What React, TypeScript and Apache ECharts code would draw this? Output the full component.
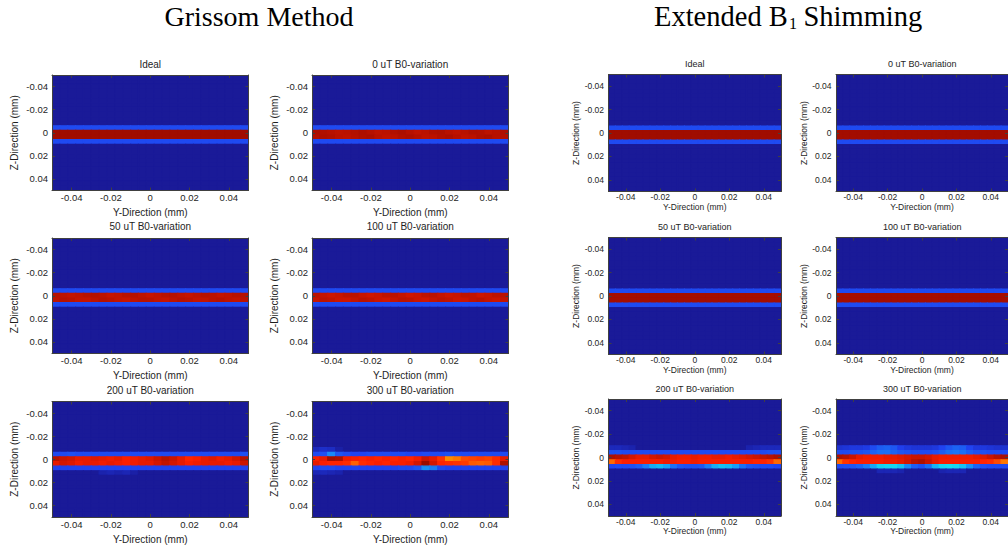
import React, { useEffect, useRef } from "react";
import * as echarts from "echarts";

// ---------- data ----------
const cellCenters = [
  -0.048, -0.044, -0.04, -0.036, -0.032, -0.028, -0.024, -0.02, -0.016, -0.012, -0.008, -0.004, 0,
  0.004, 0.008, 0.012, 0.016, 0.02, 0.024, 0.028, 0.032, 0.036, 0.04, 0.044, 0.048,
];
const tickValues = [-0.04, -0.02, 0, 0.02, 0.04];
const axisMin = -0.05;
const axisMax = 0.05;
const leftTitle = "Grissom Method";
const rightTitleMain = "Extended B";
const rightTitleSub = "1";
const rightTitleEnd = "Shimming";
const panelTitles = [
  "Ideal",
  "0 uT B0-variation",
  "50 uT B0-variation",
  "100 uT B0-variation",
  "200 uT B0-variation",
  "300 uT B0-variation",
];
const xAxisName = "Y-Direction (mm)";
const yAxisName = "Z-Direction (mm)";
const backgroundLevel = 0;
const bandFirstRow = 10; // rows 10..15 carry the slice profile

// rows 10..15 of each map (25 columns each)
const grissomIdeal = [
  [0, 0, 0, 0, 0, 0, 0, 0, 0, 0, 0, 0, 0, 0, 0, 0, 0, 0, 0, 0, 0, 0, 0, 0, 0],
  [0.14, 0.14, 0.14, 0.14, 0.14, 0.14, 0.14, 0.14, 0.14, 0.14, 0.14, 0.14, 0.14, 0.14, 0.14, 0.14, 0.14, 0.14, 0.14, 0.14, 0.14, 0.14, 0.14, 0.14, 0.14],
  [0.975, 0.975, 0.975, 0.975, 0.975, 0.975, 0.975, 0.975, 0.975, 0.975, 0.975, 0.975, 0.975, 0.975, 0.975, 0.975, 0.975, 0.975, 0.975, 0.975, 0.975, 0.975, 0.975, 0.975, 0.975],
  [0.975, 0.975, 0.975, 0.975, 0.975, 0.975, 0.975, 0.975, 0.975, 0.975, 0.975, 0.975, 0.975, 0.975, 0.975, 0.975, 0.975, 0.975, 0.975, 0.975, 0.975, 0.975, 0.975, 0.975, 0.975],
  [0.14, 0.14, 0.14, 0.14, 0.14, 0.14, 0.14, 0.14, 0.14, 0.14, 0.14, 0.14, 0.14, 0.14, 0.14, 0.14, 0.14, 0.14, 0.14, 0.14, 0.14, 0.14, 0.14, 0.14, 0.14],
  [0, 0, 0, 0, 0, 0, 0, 0, 0, 0, 0, 0, 0, 0, 0, 0, 0, 0, 0, 0, 0, 0, 0, 0, 0],
];
const grissom0uT = [
  [0, 0, 0, 0, 0, 0, 0, 0, 0, 0, 0, 0, 0, 0, 0, 0, 0, 0, 0, 0, 0, 0, 0, 0, 0],
  [0.14, 0.14, 0.14, 0.14, 0.14, 0.14, 0.14, 0.14, 0.14, 0.14, 0.14, 0.14, 0.14, 0.14, 0.14, 0.14, 0.14, 0.14, 0.14, 0.14, 0.14, 0.14, 0.14, 0.14, 0.14],
  [0.962, 0.958, 0.951, 0.944, 0.947, 0.955, 0.961, 0.953, 0.943, 0.946, 0.957, 0.963, 0.952, 0.941, 0.948, 0.958, 0.96, 0.949, 0.942, 0.95, 0.959, 0.956, 0.945, 0.951, 0.96],
  [0.955, 0.962, 0.958, 0.947, 0.943, 0.952, 0.96, 0.963, 0.95, 0.941, 0.949, 0.958, 0.962, 0.954, 0.944, 0.947, 0.957, 0.961, 0.951, 0.943, 0.948, 0.96, 0.963, 0.952, 0.956],
  [0.14, 0.14, 0.14, 0.14, 0.14, 0.14, 0.14, 0.14, 0.14, 0.14, 0.14, 0.14, 0.14, 0.14, 0.14, 0.14, 0.14, 0.14, 0.14, 0.14, 0.14, 0.14, 0.14, 0.14, 0.14],
  [0, 0, 0, 0, 0, 0, 0, 0, 0, 0, 0, 0, 0, 0, 0, 0, 0, 0, 0, 0, 0, 0, 0, 0, 0],
];
const grissom50uT = [
  [0, 0, 0, 0, 0, 0, 0, 0, 0, 0, 0, 0, 0, 0, 0, 0, 0, 0, 0, 0, 0, 0, 0, 0, 0],
  [0.14, 0.14, 0.14, 0.14, 0.14, 0.14, 0.14, 0.14, 0.14, 0.14, 0.14, 0.14, 0.14, 0.14, 0.14, 0.14, 0.14, 0.14, 0.14, 0.14, 0.14, 0.14, 0.14, 0.14, 0.14],
  [0.95, 0.945, 0.938, 0.942, 0.95, 0.954, 0.946, 0.936, 0.94, 0.949, 0.953, 0.944, 0.935, 0.941, 0.95, 0.952, 0.943, 0.937, 0.944, 0.951, 0.947, 0.939, 0.942, 0.95, 0.953],
  [0.944, 0.951, 0.947, 0.938, 0.936, 0.945, 0.952, 0.948, 0.939, 0.934, 0.943, 0.95, 0.949, 0.94, 0.935, 0.944, 0.951, 0.946, 0.937, 0.939, 0.948, 0.952, 0.943, 0.938, 0.946],
  [0.14, 0.14, 0.14, 0.14, 0.14, 0.14, 0.14, 0.14, 0.14, 0.14, 0.14, 0.14, 0.14, 0.14, 0.14, 0.14, 0.14, 0.14, 0.14, 0.14, 0.14, 0.14, 0.14, 0.14, 0.14],
  [0, 0, 0, 0, 0, 0, 0, 0, 0, 0, 0, 0, 0, 0, 0, 0, 0, 0, 0, 0, 0, 0, 0, 0, 0],
];
const grissom100uT = [
  [0, 0, 0, 0, 0, 0, 0, 0, 0, 0, 0, 0, 0, 0, 0, 0, 0, 0, 0, 0, 0, 0, 0, 0, 0],
  [0.14, 0.14, 0.14, 0.14, 0.14, 0.14, 0.14, 0.14, 0.14, 0.14, 0.14, 0.14, 0.14, 0.14, 0.14, 0.14, 0.14, 0.14, 0.14, 0.14, 0.14, 0.14, 0.14, 0.14, 0.14],
  [0.945, 0.936, 0.928, 0.934, 0.944, 0.947, 0.935, 0.926, 0.932, 0.942, 0.946, 0.937, 0.925, 0.931, 0.943, 0.948, 0.936, 0.927, 0.933, 0.944, 0.941, 0.929, 0.934, 0.943, 0.947],
  [0.935, 0.944, 0.94, 0.929, 0.926, 0.938, 0.946, 0.941, 0.93, 0.924, 0.936, 0.945, 0.942, 0.931, 0.925, 0.937, 0.944, 0.939, 0.928, 0.93, 0.941, 0.946, 0.935, 0.929, 0.938],
  [0.14, 0.14, 0.14, 0.14, 0.14, 0.14, 0.14, 0.14, 0.14, 0.14, 0.14, 0.14, 0.14, 0.14, 0.14, 0.14, 0.14, 0.14, 0.14, 0.14, 0.14, 0.14, 0.14, 0.14, 0.14],
  [0, 0, 0, 0, 0, 0, 0, 0, 0, 0, 0, 0, 0, 0, 0, 0, 0, 0, 0, 0, 0, 0, 0, 0, 0],
];
const grissom200uT = [
  [0, 0, 0, 0, 0, 0, 0, 0, 0, 0, 0, 0, 0, 0, 0, 0, 0, 0, 0, 0, 0, 0, 0, 0, 0],
  [0.14, 0.14, 0.15, 0.14, 0.14, 0.14, 0.14, 0.14, 0.14, 0.14, 0.14, 0.14, 0.14, 0.14, 0.14, 0.14, 0.14, 0.14, 0.14, 0.14, 0.14, 0.14, 0.14, 0.14, 0.15],
  [0.95, 0.93, 0.92, 0.9, 0.9, 0.91, 0.9, 0.89, 0.9, 0.88, 0.89, 0.9, 0.91, 0.93, 0.95, 0.93, 0.9, 0.87, 0.88, 0.9, 0.91, 0.89, 0.9, 0.92, 0.95],
  [0.9, 0.92, 0.91, 0.89, 0.9, 0.9, 0.89, 0.9, 0.89, 0.88, 0.89, 0.9, 0.9, 0.92, 0.94, 0.92, 0.9, 0.88, 0.89, 0.9, 0.9, 0.9, 0.89, 0.9, 0.93],
  [0.13, 0.13, 0.13, 0.13, 0.13, 0.13, 0.13, 0.13, 0.13, 0.13, 0.13, 0.13, 0.13, 0.13, 0.13, 0.13, 0.13, 0.13, 0.13, 0.13, 0.13, 0.13, 0.13, 0.13, 0.13],
  [0, 0, 0, 0, 0, 0, 0.03, 0.04, 0.03, 0.04, 0.02, 0, 0, 0, 0, 0, 0, 0, 0, 0, 0, 0, 0, 0, 0],
];
const grissom300uT = [
  [0.05, 0.07, 0.06, 0.02, 0, 0, 0, 0, 0, 0, 0, 0, 0, 0, 0, 0, 0, 0, 0, 0, 0, 0, 0, 0, 0],
  [0.14, 0.15, 0.24, 0.16, 0.14, 0.13, 0.13, 0.14, 0.14, 0.14, 0.14, 0.14, 0.13, 0.13, 0.14, 0.14, 0.14, 0.15, 0.14, 0.14, 0.14, 0.14, 0.14, 0.14, 0.14],
  [0.88, 0.9, 0.97, 0.96, 0.89, 0.88, 0.87, 0.88, 0.87, 0.88, 0.87, 0.88, 0.87, 0.89, 0.93, 0.9, 0.85, 0.74, 0.76, 0.82, 0.83, 0.84, 0.83, 0.86, 0.9],
  [0.9, 0.88, 0.87, 0.87, 0.86, 0.79, 0.86, 0.87, 0.88, 0.87, 0.88, 0.88, 0.89, 0.92, 0.98, 0.92, 0.87, 0.86, 0.85, 0.84, 0.8, 0.79, 0.8, 0.86, 0.96],
  [0.13, 0.14, 0.14, 0.13, 0.13, 0.13, 0.13, 0.13, 0.13, 0.13, 0.13, 0.14, 0.14, 0.16, 0.25, 0.22, 0.14, 0.13, 0.13, 0.13, 0.13, 0.13, 0.13, 0.13, 0.13],
  [0.04, 0.05, 0.04, 0.03, 0, 0, 0, 0, 0, 0, 0, 0, 0, 0, 0, 0, 0, 0, 0, 0, 0, 0, 0, 0, 0],
];
const extendedIdeal = [
  [0, 0, 0, 0, 0, 0, 0, 0, 0, 0, 0, 0, 0, 0, 0, 0, 0, 0, 0, 0, 0, 0, 0, 0, 0],
  [0.14, 0.14, 0.14, 0.14, 0.14, 0.14, 0.14, 0.14, 0.14, 0.14, 0.14, 0.14, 0.14, 0.14, 0.14, 0.14, 0.14, 0.14, 0.14, 0.14, 0.14, 0.14, 0.14, 0.14, 0.14],
  [0.975, 0.975, 0.975, 0.975, 0.975, 0.975, 0.975, 0.975, 0.975, 0.975, 0.975, 0.975, 0.975, 0.975, 0.975, 0.975, 0.975, 0.975, 0.975, 0.975, 0.975, 0.975, 0.975, 0.975, 0.975],
  [0.975, 0.975, 0.975, 0.975, 0.975, 0.975, 0.975, 0.975, 0.975, 0.975, 0.975, 0.975, 0.975, 0.975, 0.975, 0.975, 0.975, 0.975, 0.975, 0.975, 0.975, 0.975, 0.975, 0.975, 0.975],
  [0.14, 0.14, 0.14, 0.14, 0.14, 0.14, 0.14, 0.14, 0.14, 0.14, 0.14, 0.14, 0.14, 0.14, 0.14, 0.14, 0.14, 0.14, 0.14, 0.14, 0.14, 0.14, 0.14, 0.14, 0.14],
  [0, 0, 0, 0, 0, 0, 0, 0, 0, 0, 0, 0, 0, 0, 0, 0, 0, 0, 0, 0, 0, 0, 0, 0, 0],
];
const extended0uT = [
  [0, 0, 0, 0, 0, 0, 0, 0, 0, 0, 0, 0, 0, 0, 0, 0, 0, 0, 0, 0, 0, 0, 0, 0, 0],
  [0.14, 0.14, 0.14, 0.14, 0.14, 0.14, 0.14, 0.14, 0.14, 0.14, 0.14, 0.14, 0.14, 0.14, 0.14, 0.14, 0.14, 0.14, 0.14, 0.14, 0.14, 0.14, 0.14, 0.14, 0.14],
  [0.972, 0.972, 0.972, 0.972, 0.972, 0.972, 0.972, 0.972, 0.972, 0.972, 0.972, 0.972, 0.972, 0.972, 0.972, 0.972, 0.972, 0.972, 0.972, 0.972, 0.972, 0.972, 0.972, 0.972, 0.972],
  [0.972, 0.972, 0.972, 0.972, 0.972, 0.972, 0.972, 0.972, 0.972, 0.972, 0.972, 0.972, 0.972, 0.972, 0.972, 0.972, 0.972, 0.972, 0.972, 0.972, 0.972, 0.972, 0.972, 0.972, 0.972],
  [0.14, 0.14, 0.14, 0.14, 0.14, 0.14, 0.14, 0.14, 0.14, 0.14, 0.14, 0.14, 0.14, 0.14, 0.14, 0.14, 0.14, 0.14, 0.14, 0.14, 0.14, 0.14, 0.14, 0.14, 0.14],
  [0, 0, 0, 0, 0, 0, 0, 0, 0, 0, 0, 0, 0, 0, 0, 0, 0, 0, 0, 0, 0, 0, 0, 0, 0],
];
const extended50uT = [
  [0, 0, 0, 0, 0, 0, 0, 0, 0, 0, 0, 0, 0, 0, 0, 0, 0, 0, 0, 0, 0, 0, 0, 0, 0],
  [0.14, 0.14, 0.14, 0.14, 0.14, 0.14, 0.14, 0.14, 0.14, 0.14, 0.14, 0.14, 0.14, 0.14, 0.14, 0.14, 0.14, 0.14, 0.14, 0.14, 0.14, 0.14, 0.14, 0.14, 0.14],
  [0.97, 0.97, 0.97, 0.97, 0.97, 0.97, 0.97, 0.97, 0.97, 0.97, 0.97, 0.97, 0.97, 0.97, 0.97, 0.97, 0.97, 0.97, 0.97, 0.97, 0.97, 0.97, 0.97, 0.97, 0.97],
  [0.97, 0.97, 0.97, 0.97, 0.97, 0.97, 0.97, 0.97, 0.97, 0.97, 0.97, 0.97, 0.97, 0.97, 0.97, 0.97, 0.97, 0.97, 0.97, 0.97, 0.97, 0.97, 0.97, 0.97, 0.97],
  [0.14, 0.14, 0.14, 0.14, 0.14, 0.14, 0.14, 0.14, 0.14, 0.14, 0.14, 0.14, 0.14, 0.14, 0.14, 0.14, 0.14, 0.14, 0.14, 0.14, 0.14, 0.14, 0.14, 0.14, 0.14],
  [0, 0, 0, 0, 0, 0, 0, 0, 0, 0, 0, 0, 0, 0, 0, 0, 0, 0, 0, 0, 0, 0, 0, 0, 0],
];
const extended100uT = [
  [0, 0, 0, 0, 0, 0, 0, 0, 0, 0, 0, 0, 0, 0, 0, 0, 0, 0, 0, 0, 0, 0, 0, 0, 0],
  [0.14, 0.14, 0.14, 0.14, 0.14, 0.14, 0.14, 0.14, 0.14, 0.14, 0.14, 0.14, 0.14, 0.14, 0.14, 0.14, 0.14, 0.14, 0.14, 0.14, 0.14, 0.14, 0.14, 0.14, 0.14],
  [0.968, 0.968, 0.968, 0.968, 0.968, 0.968, 0.968, 0.968, 0.968, 0.968, 0.968, 0.968, 0.968, 0.968, 0.968, 0.968, 0.968, 0.968, 0.968, 0.968, 0.968, 0.968, 0.968, 0.968, 0.968],
  [0.968, 0.968, 0.968, 0.968, 0.968, 0.968, 0.968, 0.968, 0.968, 0.968, 0.968, 0.968, 0.968, 0.968, 0.968, 0.968, 0.968, 0.968, 0.968, 0.968, 0.968, 0.968, 0.968, 0.968, 0.968],
  [0.14, 0.14, 0.14, 0.14, 0.14, 0.14, 0.14, 0.14, 0.14, 0.14, 0.14, 0.14, 0.14, 0.14, 0.14, 0.14, 0.14, 0.14, 0.14, 0.14, 0.14, 0.14, 0.14, 0.14, 0.14],
  [0, 0, 0, 0, 0, 0, 0, 0, 0, 0, 0, 0, 0, 0, 0, 0, 0, 0, 0, 0, 0, 0, 0, 0, 0],
];
const extended200uT = [
  [0.05, 0.05, 0.04, 0.03, 0, 0, 0, 0, 0, 0, 0, 0, 0, 0, 0, 0, 0, 0, 0, 0, 0.03, 0.04, 0.05, 0.05, 0.05],
  [0.15, 0.15, 0.14, 0.14, 0.14, 0.14, 0.14, 0.14, 0.14, 0.14, 0.14, 0.14, 0.14, 0.14, 0.14, 0.14, 0.14, 0.14, 0.14, 0.14, 0.14, 0.14, 0.14, 0.15, 0.15],
  [0.96, 0.95, 0.94, 0.92, 0.9, 0.9, 0.92, 0.93, 0.92, 0.9, 0.89, 0.89, 0.9, 0.89, 0.89, 0.9, 0.9, 0.89, 0.9, 0.91, 0.92, 0.93, 0.94, 0.95, 0.96],
  [0.78, 0.86, 0.88, 0.88, 0.88, 0.88, 0.88, 0.88, 0.89, 0.89, 0.88, 0.88, 0.89, 0.88, 0.88, 0.88, 0.88, 0.88, 0.88, 0.88, 0.88, 0.87, 0.87, 0.85, 0.78],
  [0.13, 0.14, 0.14, 0.15, 0.17, 0.22, 0.29, 0.31, 0.28, 0.2, 0.16, 0.15, 0.15, 0.16, 0.22, 0.29, 0.32, 0.31, 0.27, 0.2, 0.16, 0.15, 0.14, 0.14, 0.13],
  [0, 0, 0, 0, 0, 0, 0, 0, 0, 0, 0, 0, 0, 0, 0, 0, 0, 0, 0, 0, 0, 0, 0, 0, 0],
];
const extended300uT = [
  [0.08, 0.09, 0.1, 0.1, 0.11, 0.14, 0.17, 0.18, 0.16, 0.12, 0.1, 0.09, 0.09, 0.09, 0.1, 0.13, 0.16, 0.18, 0.17, 0.13, 0.1, 0.1, 0.09, 0.08, 0.08],
  [0.14, 0.14, 0.15, 0.15, 0.16, 0.18, 0.2, 0.2, 0.18, 0.16, 0.15, 0.14, 0.14, 0.14, 0.15, 0.17, 0.2, 0.21, 0.2, 0.17, 0.15, 0.15, 0.14, 0.14, 0.14],
  [0.96, 0.95, 0.93, 0.9, 0.89, 0.89, 0.89, 0.9, 0.9, 0.91, 0.92, 0.93, 0.93, 0.92, 0.9, 0.89, 0.89, 0.89, 0.89, 0.89, 0.9, 0.91, 0.93, 0.95, 0.96],
  [0.78, 0.85, 0.87, 0.88, 0.88, 0.88, 0.88, 0.89, 0.89, 0.9, 0.92, 0.95, 0.96, 0.93, 0.9, 0.88, 0.88, 0.88, 0.88, 0.88, 0.88, 0.87, 0.86, 0.82, 0.76],
  [0.14, 0.15, 0.16, 0.18, 0.22, 0.28, 0.34, 0.35, 0.35, 0.32, 0.24, 0.17, 0.15, 0.2, 0.3, 0.35, 0.36, 0.35, 0.32, 0.25, 0.18, 0.15, 0.14, 0.14, 0.14],
  [0, 0, 0, 0, 0, 0, 0.04, 0.04, 0.04, 0.03, 0, 0, 0, 0, 0, 0.03, 0.04, 0.04, 0.04, 0, 0, 0, 0, 0, 0],
];

// jet-like colormap as it appears in the figure
const colormap = [
  "#1a1a98", "#2040f0", "#1890f8", "#18e8f0", "#80ff80",
  "#ffff00", "#ff8000", "#ff2000", "#880800",
];

// ---------- layout ----------
const sansFont = "'Liberation Sans', Arial, Helvetica, sans-serif";
const serifFont = "'Liberation Serif', 'Times New Roman', serif";
const textColor = "#1e1e1e";
const frameColor = "#404040";

const blocks = [
  {
    lefts: [52, 312], width: 196.5, tops: [75, 238, 401.5], height: 115.5,
    titleYs: [64, 226, 390], tickFont: 9.5, nameFont: 10, titleFont: 10,
    nameGapX: 17, nameGapY: 33, marginX: 2, marginY: 4,
  },
  {
    lefts: [608.5, 836], width: 172.5, tops: [74.5, 237.5, 399], height: 117,
    titleYs: [64, 227, 389], tickFont: 8.5, nameFont: 8.5, titleFont: 9,
    nameGapX: 9.5, nameGapY: 25.5, marginX: 1, marginY: 4.5,
  },
];

const panels = [
  { band: grissomIdeal, title: panelTitles[0], block: 0, row: 0, col: 0 },
  { band: grissom0uT, title: panelTitles[1], block: 0, row: 0, col: 1 },
  { band: grissom50uT, title: panelTitles[2], block: 0, row: 1, col: 0 },
  { band: grissom100uT, title: panelTitles[3], block: 0, row: 1, col: 1 },
  { band: grissom200uT, title: panelTitles[4], block: 0, row: 2, col: 0 },
  { band: grissom300uT, title: panelTitles[5], block: 0, row: 2, col: 1 },
  { band: extendedIdeal, title: panelTitles[0], block: 1, row: 0, col: 0 },
  { band: extended0uT, title: panelTitles[1], block: 1, row: 0, col: 1 },
  { band: extended50uT, title: panelTitles[2], block: 1, row: 1, col: 0 },
  { band: extended100uT, title: panelTitles[3], block: 1, row: 1, col: 1 },
  { band: extended200uT, title: panelTitles[4], block: 1, row: 2, col: 0 },
  { band: extended300uT, title: panelTitles[5], block: 1, row: 2, col: 1 },
];

const halfCell = (cellCenters[1] - cellCenters[0]) / 2;

function buildCells(band: number[][]) {
  const cells: number[][] = [];
  for (let r = 0; r < cellCenters.length; r++) {
    for (let c = 0; c < cellCenters.length; c++) {
      const br = r - bandFirstRow;
      const v = br >= 0 && br < band.length ? band[br][c] : backgroundLevel;
      cells.push([cellCenters[c], cellCenters[r], v]);
    }
  }
  return cells;
}

function renderCell(_params: any, api: any) {
  const x = api.value(0) as number;
  const z = api.value(1) as number;
  const a = api.coord([x - halfCell, z - halfCell]);
  const b = api.coord([x + halfCell, z + halfCell]);
  const color = api.visual("color");
  return {
    type: "rect",
    shape: {
      x: Math.min(a[0], b[0]),
      y: Math.min(a[1], b[1]),
      width: Math.abs(b[0] - a[0]),
      height: Math.abs(b[1] - a[1]),
    },
    style: { fill: color, stroke: color, lineWidth: 1.2 },
  };
}

function buildOption() {
  const grid: any[] = [];
  const xAxis: any[] = [];
  const yAxis: any[] = [];
  const series: any[] = [];
  const graphic: any[] = [];

  panels.forEach((p, i) => {
    const L = blocks[p.block];
    const left = L.lefts[p.col];
    const top = L.tops[p.row];
    grid.push({
      left, top, width: L.width, height: L.height, containLabel: false,
      show: true, backgroundColor: colormap[0], borderWidth: 0,
    });

    const lineStyle = { color: frameColor, width: 1 };
    const tick = { show: true, inside: true, length: 3, customValues: tickValues, lineStyle };
    xAxis.push({
      type: "value", gridIndex: i, position: "bottom", min: axisMin, max: axisMax, z: 10,
      name: xAxisName, nameLocation: "middle", nameGap: L.nameGapX,
      nameTextStyle: { fontSize: L.nameFont, color: textColor, fontFamily: sansFont },
      axisLine: { show: true, onZero: false, lineStyle },
      axisTick: tick,
      axisLabel: { customValues: tickValues, fontSize: L.tickFont, margin: L.marginX, color: textColor, fontFamily: sansFont },
      splitLine: { show: false },
    });
    xAxis.push({
      type: "value", gridIndex: i, position: "top", min: axisMin, max: axisMax, z: 10,
      axisLine: { show: true, onZero: false, lineStyle },
      axisTick: tick, axisLabel: { show: false }, splitLine: { show: false },
    });
    yAxis.push({
      type: "value", gridIndex: i, position: "left", min: axisMin, max: axisMax, inverse: true, z: 10,
      name: yAxisName, nameLocation: "middle", nameGap: L.nameGapY,
      nameTextStyle: { fontSize: L.nameFont, color: textColor, fontFamily: sansFont },
      axisLine: { show: true, onZero: false, lineStyle },
      axisTick: tick,
      axisLabel: { customValues: tickValues, fontSize: L.tickFont, margin: L.marginY, color: textColor, fontFamily: sansFont },
      splitLine: { show: false },
    });
    yAxis.push({
      type: "value", gridIndex: i, position: "right", min: axisMin, max: axisMax, inverse: true, z: 10,
      axisLine: { show: true, onZero: false, lineStyle },
      axisTick: tick, axisLabel: { show: false }, splitLine: { show: false },
    });
    series.push({
      type: "custom", xAxisIndex: 2 * i, yAxisIndex: 2 * i, data: buildCells(p.band),
      renderItem: renderCell, encode: { x: 0, y: 1 }, clip: true,
      z: 1, silent: true, progressive: 0,
    });
    graphic.push({
      type: "text", x: left + L.width / 2, y: L.titleYs[p.row], silent: true,
      style: {
        text: p.title, fontSize: L.titleFont, fontFamily: sansFont, fill: textColor,
        align: "center", verticalAlign: "middle", textAlign: "center", textVerticalAlign: "middle",
      },
    });
  });

  // main method titles
  const big = (text: string, x: number, y: number, size: number, align: string) => ({
    type: "text", x, y, silent: true,
    style: {
      text, fontSize: size, fontFamily: serifFont, fill: "#000",
      align, verticalAlign: "middle", textAlign: align, textVerticalAlign: "middle",
    },
  });
  graphic.push(big(leftTitle, 259, 16.5, 28, "center"));
  graphic.push(big(rightTitleMain, 654, 16.5, 28.5, "left"));
  graphic.push(big(rightTitleSub, 789, 23.5, 16, "left"));
  graphic.push(big(rightTitleEnd, 803.5, 16.5, 28.5, "left"));

  return {
    animation: false,
    backgroundColor: "#ffffff",
    grid,
    xAxis,
    yAxis,
    visualMap: {
      type: "continuous", show: false, min: 0, max: 1, dimension: 2,
      seriesIndex: panels.map((_, i) => i),
      inRange: { color: colormap },
    },
    series,
    graphic,
  };
}

export default function App() {
  const ref = useRef<HTMLDivElement>(null);
  useEffect(() => {
    if (!ref.current) return;
    const chart = echarts.init(ref.current, null, { renderer: "svg" });
    chart.setOption(buildOption());
    return () => chart.dispose();
  }, []);
  return (
    <div
      ref={ref}
      style={{ position: "fixed", left: 0, top: 0, width: 1008, height: 550, background: "#fff" }}
    />
  );
}
